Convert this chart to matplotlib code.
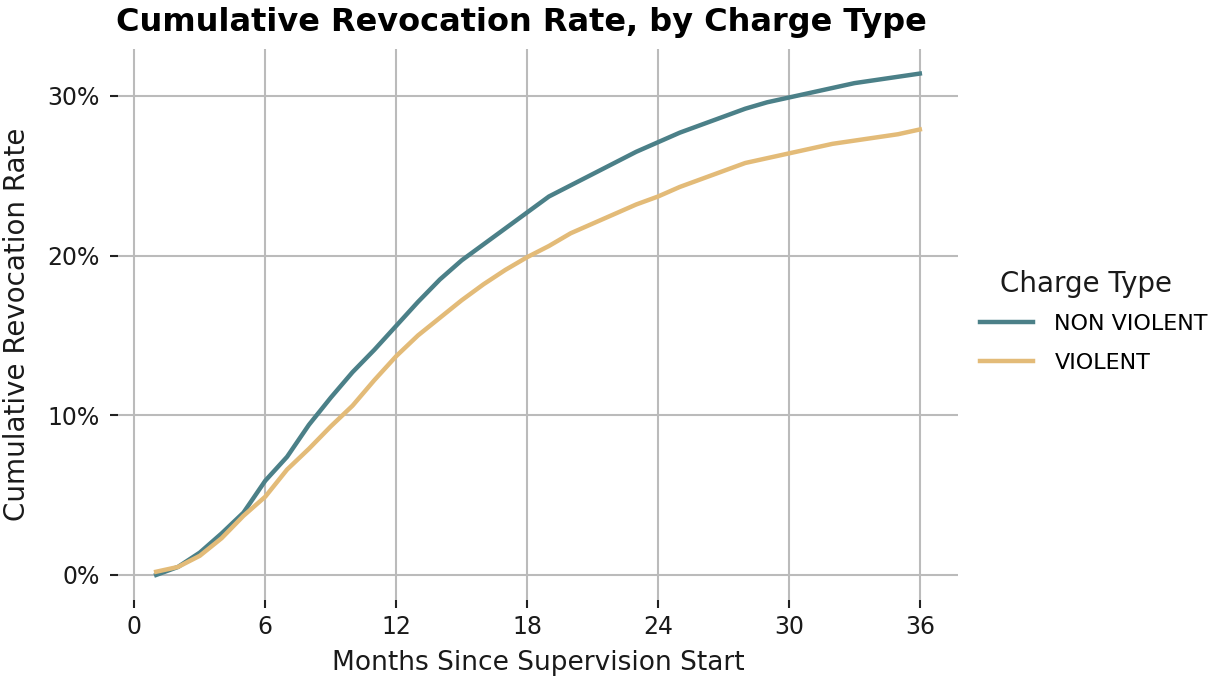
import matplotlib
matplotlib.use('Agg')
import matplotlib.pyplot as plt
from matplotlib.ticker import FuncFormatter

months = list(range(1, 37))
non_violent = [0.0, 0.5, 1.4, 2.6, 3.9, 5.9, 7.4, 9.4, 11.1, 12.7,
               14.1, 15.6, 17.1, 18.5, 19.7, 20.7, 21.7, 22.7, 23.7, 24.4,
               25.1, 25.8, 26.5, 27.1, 27.7, 28.2, 28.7, 29.2, 29.6, 29.9,
               30.2, 30.5, 30.8, 31.0, 31.2, 31.4]
violent = [0.2, 0.5, 1.2, 2.3, 3.7, 4.9, 6.6, 7.9, 9.3, 10.6,
           12.2, 13.7, 15.0, 16.1, 17.2, 18.2, 19.1, 19.9, 20.6, 21.4,
           22.0, 22.6, 23.2, 23.7, 24.3, 24.8, 25.3, 25.8, 26.1, 26.4,
           26.7, 27.0, 27.2, 27.4, 27.6, 27.9]
x_ticks = [0, 6, 12, 18, 24, 30, 36]
y_ticks = [0, 10, 20, 30]

plt.rcParams['font.family'] = ['DejaVu Sans']

fig = plt.figure(figsize=(12.25, 6.85), dpi=100)
ax = fig.add_axes([118/1225, 1 - 600/685, 840/1225, 551.5/685])

ax.plot(months, non_violent, color='#4b8088', lw=3.2, label='NON VIOLENT', zorder=3)
ax.plot(months, violent, color='#e3bb78', lw=3.2, label='VIOLENT', zorder=3)

ax.set_xlim(-0.75, 37.75)
ax.set_ylim(-1.57, 32.97)
ax.set_xticks(x_ticks)
ax.set_yticks(y_ticks)
ax.yaxis.set_major_formatter(FuncFormatter(lambda v, p: '%d%%' % v))
ax.grid(True, color='#bbbbbb', lw=1.5)
ax.set_axisbelow(True)
for s in ax.spines.values():
    s.set_visible(False)
ax.tick_params(length=6, width=1.5, color='#222222', labelsize=17, pad=5, labelcolor='#1a1a1a')
ax.tick_params(axis='y', pad=7)

ax.set_xlabel('Months Since Supervision Start', fontsize=19, labelpad=8, color='#1a1a1a')
ax.set_ylabel('Cumulative Revocation Rate', fontsize=20, labelpad=12, color='#1a1a1a')

fig.text(521/1225, 1 - 22/685, 'Cumulative Revocation Rate, by Charge Type',
         ha='center', va='center', fontsize=23, fontweight='bold')

# legend title placed separately, indented like the original
fig.text(1000/1225, 1 - 284/685, 'Charge Type', ha='left', va='center',
         fontsize=20, color='#1a1a1a')
fig.legend(*ax.get_legend_handles_labels(), loc='center left',
           bbox_to_anchor=(980/1225, 1 - 343.5/685), frameon=False,
           borderaxespad=0, borderpad=0, fontsize=16,
           handlelength=2.4, handletextpad=0.95, labelspacing=0.85)

fig.savefig('out.png', dpi=100)
